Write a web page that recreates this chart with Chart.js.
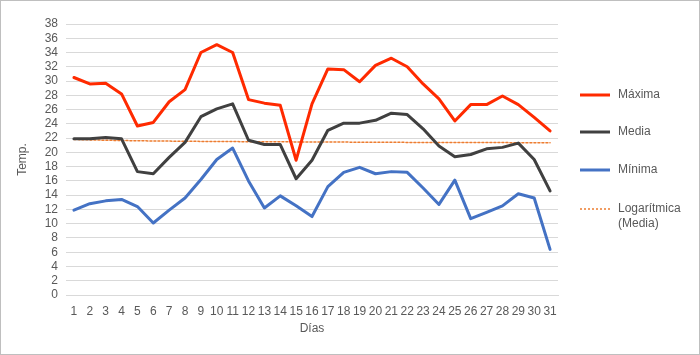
<!DOCTYPE html>
<html>
<head>
<meta charset="utf-8">
<script src="https://cdn.jsdelivr.net/npm/chart.js@4.4.0/dist/chart.umd.min.js"></script>
<style>
  html, body { margin: 0; padding: 0; background: #fff; }
  #wrap { position: relative; width: 698px; height: 353px; border: 1px solid #bfbfbf; }
  canvas { display: block; }
</style>
</head>
<body>
<div id="wrap"><canvas id="c" width="698" height="353"></canvas></div>
<script>
/* ===== Data ===== */
const dias = Array.from({ length: 31 }, (_, i) => String(i + 1));

const maxima = [30.5, 29.6, 29.7, 28.2, 23.7, 24.2, 27.1, 28.8, 34.0, 35.1,
                34.0, 27.4, 26.9, 26.6, 18.9, 26.8, 31.7, 31.6, 29.9, 32.2,
                33.2, 32.0, 29.6, 27.5, 24.4, 26.7, 26.7, 27.9, 26.7, 24.9, 23.0];

const media = [21.9, 21.9, 22.1, 21.9, 17.3, 17.0, 19.3, 21.4, 25.0, 26.1,
               26.8, 21.7, 21.1, 21.1, 16.3, 18.9, 23.1, 24.1, 24.1, 24.5,
               25.5, 25.3, 23.3, 20.9, 19.4, 19.7, 20.5, 20.7, 21.3, 19.0, 14.6];

const minima = [11.9, 12.8, 13.2, 13.4, 12.4, 10.1, 11.9, 13.6, 16.2, 19.0,
                20.6, 16.0, 12.2, 13.9, 12.5, 11.0, 15.2, 17.2, 17.9, 17.0,
                17.3, 17.2, 15.0, 12.7, 16.1, 10.7, 11.6, 12.5, 14.2, 13.6, 6.4];

// tendencia logarítmica de "Media"
const logMedia = [21.8, 21.75, 21.7, 21.66, 21.63, 21.6, 21.58, 21.56, 21.54, 21.52,
                  21.51, 21.5, 21.49, 21.48, 21.47, 21.46, 21.45, 21.44, 21.43, 21.42,
                  21.41, 21.4, 21.4, 21.39, 21.38, 21.38, 21.37, 21.37, 21.36, 21.36, 21.35];

const legendTexts = [["Máxima"], ["Media"], ["Mínima"], ["Logarítmica", "(Media)"]];

const TXT = "#595959";
const FONT = "'Liberation Sans', Arial, sans-serif";

/* ===== Leyenda propia (texto en dos líneas) ===== */
const sideLegend = {
  id: "sideLegend",
  afterDraw(chart) {
    const ctx = chart.ctx;
    const rows = [94, 131, 169, 208];
    ctx.save();
    ctx.font = "12px " + FONT;
    ctx.fillStyle = TXT;
    ctx.textBaseline = "middle";
    chart.data.datasets.forEach((ds, i) => {
      const y = rows[i];
      ctx.beginPath();
      ctx.strokeStyle = ds.borderColor;
      ctx.lineWidth = ds.borderWidth;
      ctx.setLineDash(ds.borderDash || []);
      ctx.moveTo(579, y);
      ctx.lineTo(609, y);
      ctx.stroke();
      ctx.setLineDash([]);
      legendTexts[i].forEach((t, j) => ctx.fillText(t, 617, y + j * 15));
    });
    ctx.restore();
  }
};

new Chart(document.getElementById("c"), {
  type: "line",
  data: {
    labels: dias,
    datasets: [
      { label: "Máxima", data: maxima, borderColor: "#ff2a00", borderWidth: 3 },
      { label: "Media", data: media, borderColor: "#404040", borderWidth: 3 },
      { label: "Mínima", data: minima, borderColor: "#4472c4", borderWidth: 3 },
      { label: "Logarítmica (Media)", data: logMedia, borderColor: "#ed7d31",
        borderWidth: 1.5, borderDash: [2, 2] },
    ],
  },
  options: {
    responsive: false,
    animation: false,
    elements: { point: { radius: 0 }, line: { tension: 0, borderCapStyle: "round", borderJoinStyle: "round" } },
    layout: { padding: { left: 10, top: 23, right: 141, bottom: 14 } },
    plugins: { legend: { display: false }, tooltip: { enabled: false } },
    scales: {
      x: {
        offset: true,
        grid: { display: false },
        border: { color: "#d9d9d9" },
        ticks: { color: TXT, font: { family: FONT, size: 12 }, padding: 1, maxRotation: 0, autoSkip: false },
        title: { display: true, text: "Días", color: TXT, font: { family: FONT, size: 12 }, padding: { top: 2 } },
        afterFit: s => { s.height = 45; },
      },
      y: {
        min: 0, max: 38,
        ticks: { stepSize: 2, autoSkip: false, color: TXT, font: { family: FONT, size: 12 }, padding: 8 },
        grid: { color: "#d9d9d9", drawTicks: false },
        border: { display: false },
        title: { display: true, text: "Temp.", color: TXT, font: { family: FONT, size: 12 } },
        afterFit: s => { s.width = 55; },
      },
    },
  },
  plugins: [sideLegend],
});
</script>
</body>
</html>
